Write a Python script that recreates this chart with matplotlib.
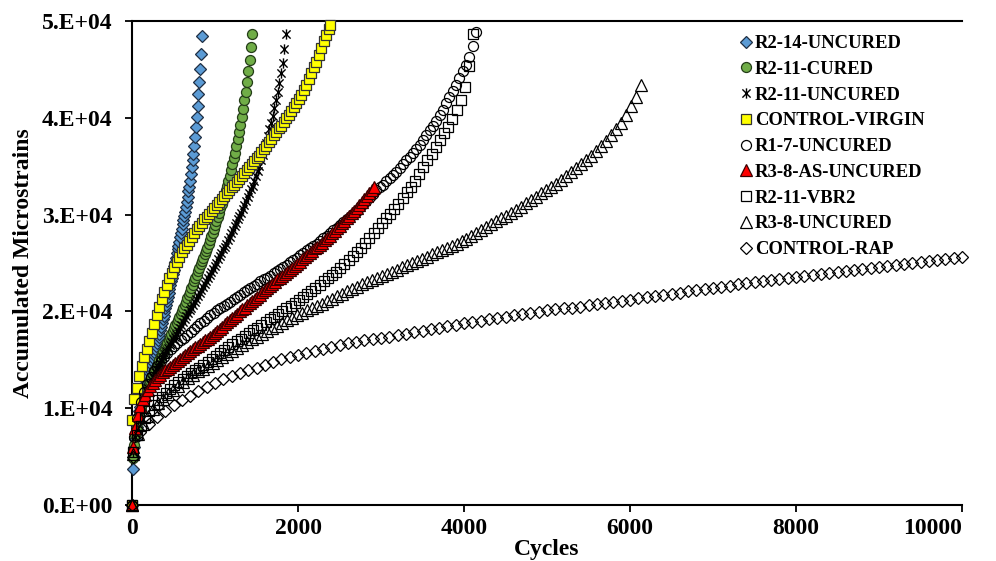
import matplotlib
matplotlib.use("Agg")
import matplotlib.pyplot as plt
from matplotlib.path import Path

plt.rcParams['font.family'] = ['Liberation Serif', 'DejaVu Serif']
plt.rcParams['font.weight'] = 'bold'

# ---------------- data (cycles, accumulated microstrains) ----------------
r2_14_uncured = [(0,0),(10,3700),(20,5000),(30,6000),(40,6800),(50,7500),(60,8100),(70,8700),(80,9200),(90,9700),
    (100,10100),(110,10500),(120,10900),(130,11300),(140,11700),(150,12100),(160,12400),(170,12800),(180,13100),(190,13400),
    (200,13700),(210,14000),(220,14300),(230,14600),(240,14900),(250,15200),(260,15500),(270,15800),(280,16100),(290,16400),
    (300,16700),(310,17000),(320,17400),(330,17700),(340,18100),(350,18400),(360,18800),(370,19200),(380,19500),(390,19900),
    (400,20300),(410,20700),(420,21100),(430,21500),(440,21900),(450,22300),(460,22700),(470,23100),(480,23500),(490,23900),
    (500,24300),(510,24700),(520,25100),(530,25500),(540,26000),(550,26400),(560,26800),(570,27200),(580,27700),(590,28100),
    (600,28500),(610,29000),(620,29400),(630,29900),(640,30300),(650,30800),(660,31300),(670,31800),(680,32400),(690,32900),
    (700,33500),(710,34200),(720,34900),(730,35600),(740,36300),(750,37100),(760,38000),(770,39000),(780,40100),(790,41200),
    (800,42500),(810,43700),(820,45000),(830,46600),(840,48400)]

r2_11_cured = [(0,0),(10,4900),(26,6200),(42,7200),(58,8000),(74,8700),(90,9300),(106,9900),(122,10400),(138,10900),
    (154,11300),(170,11700),(186,12100),(202,12450),(218,12800),(234,13150),(250,13450),(266,13750),(282,14050),(298,14350),
    (314,14650),(330,14950),(346,15250),(362,15550),(378,15850),(394,16150),(410,16450),(426,16750),(442,17050),(458,17350),
    (474,17650),(490,17950),(506,18250),(522,18550),(538,18850),(554,19150),(570,19450),(586,19750),(602,20050),(618,20350),
    (634,20700),(650,21000),(666,21350),(682,21700),(698,22050),(714,22400),(730,22750),(746,23100),(762,23450),(778,23800),
    (794,24150),(810,24500),(826,24850),(842,25200),(858,25550),(874,25900),(890,26250),(906,26600),(922,26950),(938,27350),
    (954,27750),(970,28150),(986,28550),(1002,28950),(1018,29350),(1034,29750),(1050,30200),(1066,30650),(1082,31100),(1098,31550),
    (1114,32000),(1130,32500),(1146,33000),(1162,33500),(1178,34000),(1194,34600),(1210,35200),(1226,35800),(1242,36400),(1258,37100),
    (1274,37800),(1290,38500),(1306,39300),(1322,40100),(1338,40900),(1354,41800),(1370,42700),(1386,43700),(1402,44800),(1418,46000),
    (1434,47300),(1450,48700)]

r2_11_uncured = [(0,0),(15,5500),(35,7000),(55,8000),(75,8800),(95,9500),(115,10100),(135,10700),(155,11200),(175,11700),
    (195,12100),(215,12500),(235,12900),(255,13300),(275,13700),(295,14000),(315,14300),(335,14700),(355,15000),(375,15300),
    (395,15600),(415,15900),(435,16200),(455,16500),(475,16800),(495,17100),(515,17400),(535,17700),(555,18000),(575,18300),
    (595,18600),(615,18900),(635,19200),(655,19500),(675,19800),(695,20100),(715,20400),(735,20700),(755,21000),(775,21300),
    (795,21600),(815,21900),(835,22200),(855,22500),(875,22800),(895,23100),(915,23500),(935,23800),(955,24100),(975,24400),
    (995,24700),(1015,25000),(1035,25400),(1055,25700),(1075,26000),(1095,26400),(1115,26700),(1135,27000),(1155,27400),(1175,27700),
    (1195,28100),(1215,28400),(1235,28800),(1255,29100),(1275,29500),(1295,29900),(1315,30200),(1335,30600),(1355,31000),(1375,31400),
    (1395,31800),(1415,32200),(1435,32600),(1455,33000),(1475,33500),(1495,34000),(1515,34500),(1535,35000),(1555,35600),(1575,36200),
    (1595,36800),(1615,37400),(1635,38100),(1655,38800),(1675,39500),(1695,40200),(1715,41000),(1735,41800),(1755,42700),(1775,43600),
    (1795,44600),(1815,45700),(1835,47100),(1855,48700)]

control_virgin = [(0,0),(5,8800),(30,11000),(60,12100),(90,13300),(120,14400),(150,15300),(180,16100),(210,16900),(240,17800),
    (270,18700),(300,19600),(330,20500),(360,21300),(390,22000),(420,22700),(450,23400),(480,24000),(510,24600),(540,25100),
    (570,25600),(600,26100),(630,26500),(660,26900),(690,27300),(720,27700),(750,28100),(780,28500),(810,28800),(840,29100),
    (870,29500),(900,29800),(930,30100),(960,30400),(990,30700),(1020,31000),(1050,31300),(1080,31600),(1110,31900),(1140,32200),
    (1170,32500),(1200,32800),(1230,33100),(1260,33400),(1290,33700),(1320,34000),(1350,34300),(1380,34600),(1410,34900),(1440,35200),
    (1470,35500),(1500,35800),(1530,36100),(1560,36500),(1590,36800),(1620,37100),(1650,37500),(1680,37800),(1710,38200),(1740,38500),
    (1770,38900),(1800,39200),(1830,39600),(1860,40000),(1890,40300),(1920,40700),(1950,41100),(1980,41500),(2010,41900),(2040,42400),
    (2070,42900),(2100,43400),(2130,44000),(2160,44600),(2190,45200),(2220,45800),(2250,46500),(2280,47200),(2310,47900),(2340,48600),
    (2370,49200),(2390,49600)]

r1_7_uncured = [(0,0),(25,7000),(65,9000),(105,10600),(145,11700),(185,12500),(225,13200),(265,13800),(305,14400),(345,14900),
    (385,15300),(425,15700),(465,16100),(505,16400),(545,16700),(585,17000),(625,17300),(665,17600),(705,17900),(745,18200),
    (785,18500),(825,18800),(865,19000),(905,19300),(945,19600),(985,19800),(1025,20100),(1065,20300),(1105,20600),(1145,20800),
    (1185,21000),(1225,21300),(1265,21500),(1305,21700),(1345,22000),(1385,22200),(1425,22400),(1465,22600),(1505,22800),(1545,23100),
    (1585,23300),(1625,23500),(1665,23700),(1705,24000),(1745,24200),(1785,24400),(1825,24600),(1865,24800),(1905,25100),(1945,25300),
    (1985,25500),(2025,25800),(2065,26000),(2105,26300),(2145,26500),(2185,26800),(2225,27000),(2265,27300),(2305,27600),(2345,27800),
    (2385,28100),(2425,28400),(2465,28600),(2505,28900),(2545,29200),(2585,29500),(2625,29800),(2665,30100),(2705,30400),(2745,30800),
    (2785,31100),(2825,31400),(2865,31800),(2905,32100),(2945,32500),(2985,32800),(3025,33100),(3065,33500),(3105,33800),(3145,34100),
    (3185,34400),(3225,34800),(3265,35200),(3305,35600),(3345,36000),(3385,36400),(3425,36800),(3465,37200),(3505,37700),(3545,38200),
    (3585,38700),(3625,39200),(3665,39700),(3705,40300),(3745,40800),(3785,41500),(3825,42100),(3865,42800),(3905,43400),(3945,44100),
    (3985,44800),(4025,45500),(4065,46300),(4105,47400),(4145,48900)]

r3_8_as_uncured = [(0,0),(10,6000),(40,8000),(70,9300),(100,10200),(130,10900),(160,11400),(190,11900),(220,12300),(250,12600),
    (280,12900),(310,13200),(340,13400),(370,13700),(400,13900),(430,14100),(460,14300),(490,14500),(520,14700),(550,14900),
    (580,15100),(610,15300),(640,15500),(670,15700),(700,15900),(730,16100),(760,16300),(790,16400),(820,16600),(850,16800),
    (880,17000),(910,17200),(940,17400),(970,17600),(1000,17800),(1030,18000),(1060,18200),(1090,18400),(1120,18700),(1150,18900),
    (1180,19100),(1210,19300),(1240,19500),(1270,19700),(1300,20000),(1330,20200),(1360,20400),(1390,20700),(1420,20900),(1450,21100),
    (1480,21300),(1510,21500),(1540,21700),(1570,22000),(1600,22200),(1630,22400),(1660,22600),(1690,22800),(1720,23000),(1750,23300),
    (1780,23500),(1810,23700),(1840,23900),(1870,24100),(1900,24300),(1930,24500),(1960,24700),(1990,24900),(2020,25100),(2050,25400),
    (2080,25600),(2110,25800),(2140,26000),(2170,26200),(2200,26500),(2230,26700),(2260,26900),(2290,27100),(2320,27400),(2350,27600),
    (2380,27800),(2410,28100),(2440,28300),(2470,28600),(2500,28800),(2530,29100),(2560,29300),(2590,29600),(2620,29900),(2650,30200),
    (2680,30400),(2710,30700),(2740,31000),(2770,31300),(2800,31600),(2830,31900),(2860,32200),(2890,32500),(2920,32800)]

r2_11_vbr2 = [(0,0),(10,5500),(60,7200),(110,8200),(160,9000),(210,9700),(260,10300),(310,10800),(360,11200),(410,11600),
    (460,12000),(510,12400),(560,12700),(610,13000),(660,13300),(710,13600),(760,13900),(810,14200),(860,14500),(910,14800),
    (960,15100),(1010,15400),(1060,15700),(1110,16000),(1160,16300),(1210,16600),(1260,16900),(1310,17200),(1360,17500),(1410,17800),
    (1460,18100),(1510,18300),(1560,18600),(1610,18900),(1660,19200),(1710,19400),(1760,19700),(1810,20000),(1860,20300),(1910,20600),
    (1960,20900),(2010,21200),(2060,21500),(2110,21800),(2160,22100),(2210,22400),(2260,22700),(2310,23100),(2360,23400),(2410,23800),
    (2460,24100),(2510,24500),(2560,24900),(2610,25300),(2660,25700),(2710,26100),(2760,26600),(2810,27100),(2860,27600),(2910,28100),
    (2960,28600),(3010,29100),(3060,29600),(3110,30100),(3160,30600),(3210,31100),(3260,31700),(3310,32300),(3360,32900),(3410,33500),
    (3460,34200),(3510,34900),(3560,35600),(3610,36300),(3660,37000),(3710,37700),(3760,38400),(3810,39100),(3860,39900),(3910,40800),
    (3960,41800),(4010,43200),(4060,45300),(4110,48700)]

r3_8_uncured = [(0,0),(10,5300),(70,7300),(130,8400),(190,9200),(250,9900),(310,10500),(370,11000),(430,11500),(490,11900),
    (550,12300),(610,12700),(670,13100),(730,13400),(790,13800),(850,14100),(910,14400),(970,14700),(1030,15000),(1090,15300),
    (1150,15600),(1210,15900),(1270,16200),(1330,16500),(1390,16800),(1450,17100),(1510,17400),(1570,17700),(1630,18000),(1690,18300),
    (1750,18500),(1810,18800),(1870,19100),(1930,19300),(1990,19600),(2050,19800),(2110,20100),(2170,20300),(2230,20600),(2290,20800),
    (2350,21100),(2410,21300),(2470,21600),(2530,21800),(2590,22100),(2650,22300),(2710,22500),(2770,22800),(2830,23000),(2890,23200),
    (2950,23500),(3010,23700),(3070,23900),(3130,24100),(3190,24300),(3250,24600),(3310,24800),(3370,25000),(3430,25200),(3490,25400),
    (3550,25600),(3610,25900),(3670,26100),(3730,26300),(3790,26500),(3850,26800),(3910,27000),(3970,27300),(4030,27500),(4090,27800),
    (4150,28100),(4210,28400),(4270,28700),(4330,29000),(4390,29300),(4450,29600),(4510,29900),(4570,30200),(4630,30500),(4690,30800),
    (4750,31200),(4810,31500),(4870,31800),(4930,32200),(4990,32500),(5050,32900),(5110,33200),(5170,33600),(5230,34000),(5290,34400),
    (5350,34800),(5410,35200),(5470,35600),(5530,36100),(5590,36600),(5650,37100),(5710,37600),(5770,38200),(5830,38800),(5890,39500),
    (5950,40300),(6010,41200),(6070,42200),(6130,43400)]

control_rap = [(0,0),(10,5000),(100,7500),(200,8400),(300,9100),(400,9700),(500,10300),(600,10800),(700,11300),(800,11800),
    (900,12200),(1000,12600),(1100,13000),(1200,13300),(1300,13600),(1400,13900),(1500,14200),(1600,14500),(1700,14800),(1800,15100),
    (1900,15300),(2000,15500),(2100,15700),(2200,15900),(2300,16100),(2400,16300),(2500,16500),(2600,16700),(2700,16800),(2800,17000),
    (2900,17100),(3000,17300),(3100,17400),(3200,17600),(3300,17700),(3400,17900),(3500,18000),(3600,18200),(3700,18300),(3800,18500),
    (3900,18600),(4000,18800),(4100,18900),(4200,19000),(4300,19200),(4400,19300),(4500,19400),(4600,19600),(4700,19700),(4800,19800),
    (4900,19900),(5000,20100),(5100,20200),(5200,20300),(5300,20400),(5400,20500),(5500,20700),(5600,20800),(5700,20900),(5800,21000),
    (5900,21100),(6000,21200),(6100,21400),(6200,21500),(6300,21600),(6400,21700),(6500,21800),(6600,21900),(6700,22100),(6800,22200),
    (6900,22300),(7000,22400),(7100,22500),(7200,22600),(7300,22800),(7400,22900),(7500,23000),(7600,23100),(7700,23200),(7800,23300),
    (7900,23500),(8000,23600),(8100,23700),(8200,23800),(8300,23900),(8400,24000),(8500,24100),(8600,24200),(8700,24300),(8800,24400),
    (8900,24500),(9000,24600),(9100,24700),(9200,24800),(9300,24900),(9400,25000),(9500,25100),(9600,25200),(9700,25300),(9800,25400),
    (9900,25500),(10000,25600)]

series_names = ["R2-14-UNCURED", "R2-11-CURED", "R2-11-UNCURED", "CONTROL-VIRGIN", "R1-7-UNCURED",
                "R3-8-AS-UNCURED", "R2-11-VBR2", "R3-8-UNCURED", "CONTROL-RAP"]
series_data = [r2_14_uncured, r2_11_cured, r2_11_uncured, control_virgin, r1_7_uncured,
               r3_8_as_uncured, r2_11_vbr2, r3_8_uncured, control_rap]

x_ticks = [0, 2000, 4000, 6000, 8000, 10000]
y_ticks = [0, 10000, 20000, 30000, 40000, 50000]
y_tick_labels = ["0.E+00", "1.E+04", "2.E+04", "3.E+04", "4.E+04", "5.E+04"]

# ---------------- styles ----------------
asterisk = Path([(0, -1), (0, 1), (-0.8, -0.8), (0.8, 0.8), (-0.8, 0.8), (0.8, -0.8)],
                [Path.MOVETO, Path.LINETO, Path.MOVETO, Path.LINETO, Path.MOVETO, Path.LINETO])

styles = [
    dict(marker='D', ms=6.0, mfc='#5B9BD5', mec='#1F2F44', mew=0.9),
    dict(marker='o', ms=7.2, mfc='#70AD47', mec='#243D18', mew=0.9),
    dict(marker=asterisk, ms=7.4, mfc='none', mec='black', mew=1.0),
    dict(marker='s', ms=7.2, mfc='#FFFF00', mec='#333333', mew=0.9),
    dict(marker='o', ms=7.2, mfc='none', mec='black', mew=0.9),
    dict(marker='^', ms=8.0, mfc='#FF0000', mec='#3A0000', mew=0.9),
    dict(marker='s', ms=7.2, mfc='none', mec='black', mew=0.9),
    dict(marker='^', ms=8.0, mfc='none', mec='black', mew=0.9),
    dict(marker='D', ms=6.0, mfc='none', mec='black', mew=0.9),
]

fig = plt.figure(figsize=(9.96, 5.61), dpi=100)
ax = fig.add_axes([132/996, 1 - 505/561, (962-132)/996, (505-21)/561])

for i, (name, data, st) in enumerate(zip(series_names, series_data, styles)):
    xs = [p[0] for p in data]
    ys = [p[1] for p in data]
    ax.plot(xs, ys, linestyle='none', label=name, clip_on=False, zorder=3 + i, **st)

ax.set_xlim(0, 10000)
ax.set_ylim(0, 50000)
ax.set_xticks(x_ticks)
ax.set_xticklabels([str(v) for v in x_ticks])
ax.set_yticks(y_ticks)
ax.set_yticklabels(y_tick_labels)

for s in ['left', 'bottom', 'top']:
    ax.spines[s].set_linewidth(1.5)
ax.spines['right'].set_visible(False)
ax.tick_params(axis='both', direction='out', length=5, width=1.3, labelsize=17)
ax.tick_params(axis='x', pad=4)
ax.tick_params(axis='y', pad=9)
for lab in ax.get_xticklabels() + ax.get_yticklabels():
    lab.set_fontweight('bold')
# last x label kept inside the chart area, as in the reference
ax.get_xticklabels()[-1].set_horizontalalignment('right')

ax.set_xlabel("Cycles", fontsize=17, fontweight='bold', labelpad=0)
ax.set_ylabel("Accumulated Microstrains", fontsize=17, fontweight='bold', labelpad=6)

leg = ax.legend(loc='upper left', bbox_to_anchor=(741/996, 1 - 35/561), bbox_transform=fig.transFigure,
                frameon=False, borderpad=0, borderaxespad=0, handlelength=0.5, handletextpad=0.25,
                labelspacing=0.47, prop=dict(family='Liberation Serif', weight='bold', size=13.4),
                numpoints=1)

fig.savefig("out.png", dpi=100)
